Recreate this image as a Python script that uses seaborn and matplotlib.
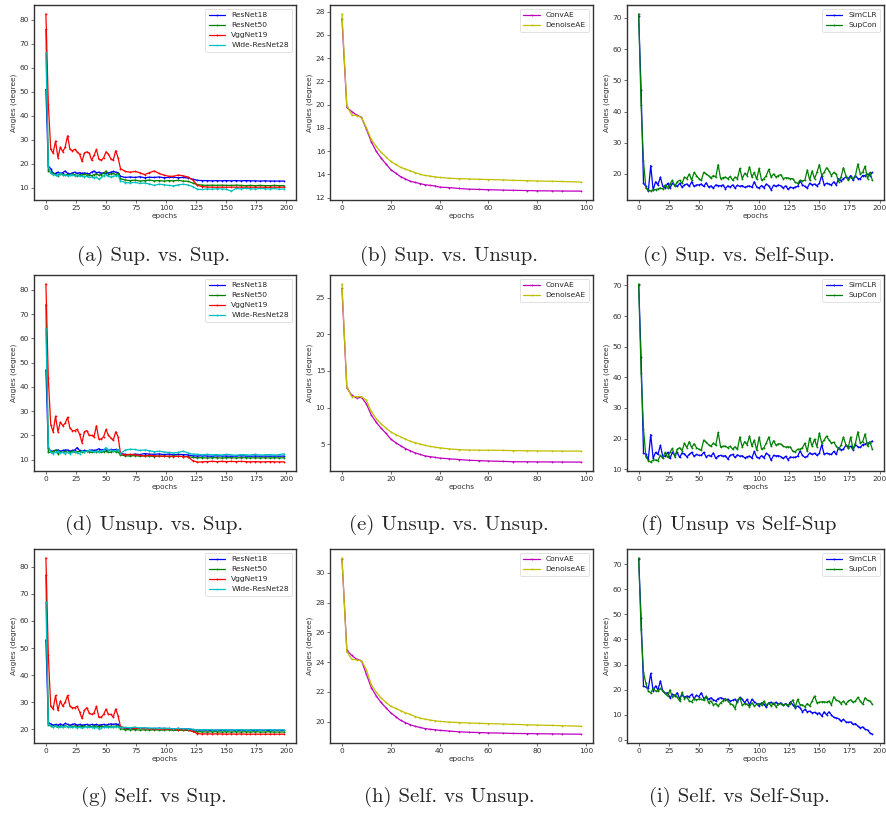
import matplotlib
matplotlib.use("Agg")
import matplotlib.pyplot as plt
import seaborn as sns
import numpy as np

sns.set_style("ticks")
plt.rcParams['font.family'] = ['DejaVu Sans']

# ---------------- data ----------------
epochs_sup = list(range(0, 64, 2)) + list(range(66, 199, 4))
sup_names = ["ResNet18", "ResNet50", "VggNet19", "Wide-ResNet28"]
sup_colors = ["b", "g", "r", "c"]

# (a) Sup. vs. Sup.
a_resnet18 = [51, 19, 18, 16, 16, 16.5, 16, 16.3, 17, 16, 15.8, 16.2, 16.5, 16, 16.3, 16, 16.2, 16, 15.8, 16.5, 17, 16.3, 16.5, 16, 16.3, 16, 16.2, 16.5, 16.8, 16.5, 16.3, 14.8,
              14.3, 14.5, 14.3, 14.6, 14.2, 14.4, 14.3, 14.5, 14.2, 14.3, 14.4, 14.2, 14.3, 14.1, 13.6, 13.1, 13.0, 13.0, 12.9, 13.0, 12.9, 13.0, 12.9, 13.0, 12.9, 13.0, 12.9, 12.9, 12.8, 12.9, 12.8, 12.8, 12.8, 12.8]
a_resnet50 = [76, 17, 16.5, 16, 15.5, 15, 15.8, 15.5, 15.3, 15.5, 15.2, 15.8, 15.5, 15, 15.5, 15.3, 15.8, 15.2, 15.5, 15, 15.5, 15.8, 15.2, 15.5, 16, 17, 15.5, 15.8, 16, 15.5, 16, 13.8,
              13.2, 13.0, 13.2, 12.8, 13.0, 13.2, 12.9, 13.0, 12.8, 13.0, 12.9, 13.1, 12.8, 12.7, 12.0, 11.3, 11.1, 11.0, 11.1, 11.0, 11.1, 11.0, 11.0, 11.1, 11.0, 10.9, 11.0, 10.9, 11.0, 10.9, 10.9, 11.0, 10.9, 10.9]
a_vggnet19 = [82.5, 45, 26, 24.5, 29.5, 22.5, 27, 25, 27, 31.7, 26, 25.5, 26, 25, 24, 21, 24.5, 25, 24.5, 21.5, 23.5, 26, 22, 21.5, 22.5, 25, 24, 22, 21.5, 25.5, 22.5, 18,
              16.8, 16.5, 16.8, 16.3, 15.5, 16.3, 17, 16, 15.3, 14.8, 14.8, 15.3, 15, 14.5, 13.3, 11, 10.5, 10.3, 10.3, 10.2, 10.3, 10.2, 10.3, 10.2, 10.3, 10.2, 10.3, 10.2, 10.3, 10.2, 10.2, 10.3, 10.2, 10.3]
a_wide28 = [66, 19, 16, 15.5, 15.3, 15.5, 16, 15.2, 15.5, 15, 15.3, 15.5, 15, 15.2, 14.8, 15, 14.5, 14.8, 14.3, 14.5, 14.2, 14.5, 13.5, 14.3, 15, 15.5, 14.8, 14.5, 14.8, 15, 15.2, 12.8,
            12.2, 12.0, 12.3, 11.8, 12.0, 11.6, 11.0, 11.5, 11.3, 11.0, 10.8, 11.2, 11.5, 11.2, 10.5, 9.4, 9.3, 9.5, 9.4, 9.6, 9.5, 9.4, 8.6, 9.7, 9.5, 9.8, 9.6, 9.5, 9.7, 9.6, 9.5, 9.7, 9.4, 9.5]

# (d) Unsup. vs. Sup.
d_resnet18 = [47, 15, 13.5, 13.5, 13.8, 14, 13.5, 13.8, 14, 14, 13.5, 13.8, 14, 15, 13.8, 13.5, 13.8, 13.7, 13.8, 14, 13.8, 14, 14.5, 14, 14.2, 14, 13.8, 14.2, 14, 14.2, 14, 12.5,
              12.2, 12.0, 12.3, 12.1, 12.5, 12.3, 12.2, 12.4, 12.1, 12.3, 12.0, 12.2, 12.1, 12.0, 11.6, 11.5, 11.6, 11.5, 11.4, 11.6, 11.5, 11.5, 11.4, 11.5, 11.6, 11.5, 11.4, 11.5, 11.4, 11.5, 11.4, 11.5, 11.4, 11.5]
d_resnet50 = [74, 13, 13, 13.5, 14, 12.5, 13.2, 13, 13.5, 13, 13.2, 13.5, 13, 13.2, 13.5, 13, 13.3, 13.5, 13.2, 13, 13.5, 13.2, 13.5, 13, 13.3, 13.5, 13, 13.2, 13.5, 13.2, 13.3, 12.0,
              11.6, 11.5, 11.7, 11.4, 11.6, 11.5, 11.3, 11.5, 11.4, 11.3, 11.5, 11.4, 11.3, 11.3, 10.9, 10.8, 10.8, 10.7, 10.8, 10.8, 10.7, 10.8, 10.8, 10.7, 10.8, 10.8, 10.7, 10.8, 10.7, 10.8, 10.7, 10.8, 10.7, 10.8]
d_vggnet19 = [82.5, 43.5, 24.5, 21.5, 28, 21.5, 25.5, 24, 25, 27.5, 23, 22, 22, 22.5, 20.5, 17, 21.5, 22, 20, 20, 19.5, 24, 18.5, 18.5, 19.5, 22.5, 20, 19, 18, 21.5, 19.5, 12.5,
              12.0, 12.2, 12.0, 11.8, 11.5, 11.8, 11.6, 11.5, 11.4, 11.5, 11.3, 11.4, 11.3, 11.2, 9.6, 9.0, 9.1, 9.2, 9.3, 9.2, 9.3, 9.2, 9.3, 9.2, 9.3, 9.2, 9.1, 9.2, 9.1, 9.1, 9.2, 9.1, 9.1, 9.1]
d_wide28 = [64, 15.5, 13, 12.5, 13, 13.5, 12.8, 13, 12.5, 13, 12.5, 13, 13.3, 12.8, 12.5, 13.5, 13.2, 13.5, 13.8, 13.5, 13.2, 13.5, 13, 13.5, 14, 15, 13.8, 14, 13.5, 13.8, 14, 12.5,
            14.0, 14.3, 14.2, 13.8, 14.0, 13.7, 13.3, 13.5, 13.2, 13.0, 12.8, 13.0, 13.5, 12.8, 12.3, 12.2, 12.0, 12.2, 12.0, 12.1, 11.9, 12.2, 12.0, 11.8, 12.1, 12.0, 11.9, 12.2, 11.9, 12.0, 12.1, 11.9, 12.1, 12.4]

# (g) Self. vs Sup.
g_resnet18 = [53, 22.5, 22, 21.5, 21.8, 21.5, 22, 21.5, 22.2, 21.8, 21.5, 21.8, 22, 21.5, 21.8, 21.5, 21.7, 21.8, 21.5, 21.8, 21.6, 21.8, 21.5, 21.7, 21.8, 21.5, 21.8, 22, 21.8, 22, 21.8, 20.8,
              20.4, 20.3, 20.5, 20.3, 20.4, 20.3, 20.2, 20.4, 20.3, 20.3, 20.2, 20.3, 20.2, 20.2, 19.9, 19.7, 19.7, 19.7, 19.6, 19.7, 19.6, 19.7, 19.7, 19.6, 19.7, 19.6, 19.7, 19.6, 19.7, 19.6, 19.6, 19.7, 19.6, 19.6]
g_resnet50 = [77, 21.5, 21.3, 21, 21.2, 20.8, 21.2, 21, 21.3, 21, 21.2, 21, 21.3, 21, 21.2, 21, 21.3, 21, 21.2, 21, 21.3, 21.1, 21, 21.2, 21, 21.3, 21, 21.2, 21, 21.2, 21.3, 20.2,
              19.9, 19.8, 19.9, 19.7, 19.8, 19.7, 19.8, 19.7, 19.7, 19.8, 19.6, 19.7, 19.6, 19.6, 19.3, 19.1, 19.1, 19.0, 19.1, 19.1, 19.0, 19.1, 19.0, 19.1, 19.0, 19.1, 19.0, 19.1, 19.0, 19.0, 19.1, 19.0, 19.0, 19.0]
g_vggnet19 = [83.3, 47.5, 28.5, 27.5, 32.5, 27, 30.5, 28.5, 30, 32.5, 28.5, 28, 28, 28.5, 26.5, 24, 27, 28, 26, 25.5, 26, 28.5, 24.5, 24.5, 25.5, 27.5, 25.5, 25.5, 24.5, 27.5, 25, 21,
              20.6, 20.5, 20.4, 20.3, 20.3, 20.2, 20.2, 20.1, 20.1, 20.0, 20.0, 19.9, 19.9, 19.9, 19.2, 18.4, 18.3, 18.3, 18.3, 18.3, 18.3, 18.2, 18.3, 18.2, 18.3, 18.2, 18.2, 18.2, 18.2, 18.2, 18.2, 18.2, 18.2, 18.2]
g_wide28 = [67, 22, 21.2, 21, 21.3, 21, 20.8, 21, 21.2, 20.8, 21, 20.7, 21, 20.6, 20.8, 20.5, 20.8, 21, 20.7, 20.8, 20.6, 20.8, 20.2, 20.6, 20.8, 21, 20.7, 20.8, 21, 20.8, 21, 20.7,
            20.7, 20.6, 20.8, 20.5, 20.6, 20.4, 20.5, 20.3, 20.4, 20.3, 20.2, 20.3, 20.2, 20.2, 20.0, 19.8, 19.8, 19.9, 19.8, 19.7, 19.9, 19.8, 19.7, 19.8, 19.9, 19.7, 19.8, 19.9, 19.7, 19.8, 19.9, 19.7, 19.8, 19.8]

epochs_unsup = list(range(0, 42, 2)) + [44, 48, 52, 56, 60, 66, 70, 76, 80, 86, 90, 98]
unsup_names = ["ConvAE", "DenoiseAE"]
unsup_colors = ["m", "y"]

b_convae = [27.4, 19.75, 19.4, 19.1, 18.9, 17.9, 16.8, 16.0, 15.4, 14.9, 14.4, 14.1, 13.8, 13.6, 13.4, 13.3, 13.2, 13.1, 13.05, 13.0, 12.9,
            12.85, 12.78, 12.72, 12.7, 12.67, 12.64, 12.62, 12.6, 12.58, 12.57, 12.56, 12.55]
b_denoiseae = [27.8, 19.9, 19.1, 19.05, 18.9, 18.0, 17.0, 16.4, 15.9, 15.5, 15.1, 14.85, 14.6, 14.45, 14.3, 14.15, 14.0, 13.9, 13.85, 13.78, 13.73,
               13.66, 13.62, 13.6, 13.57, 13.55, 13.52, 13.48, 13.45, 13.42, 13.4, 13.38, 13.33]
e_convae = [26.3, 12.7, 11.7, 11.3, 11.4, 10.5, 9.0, 8.0, 7.2, 6.5, 5.7, 5.2, 4.8, 4.4, 4.1, 3.8, 3.6, 3.4, 3.3, 3.2, 3.1,
            3.0, 2.9, 2.8, 2.75, 2.7, 2.65, 2.6, 2.59, 2.58, 2.57, 2.56, 2.55]
e_denoiseae = [26.9, 12.8, 11.5, 11.5, 11.5, 11.0, 9.5, 8.5, 7.8, 7.2, 6.7, 6.3, 6.0, 5.7, 5.4, 5.2, 5.0, 4.85, 4.7, 4.6, 4.5,
               4.35, 4.25, 4.2, 4.18, 4.17, 4.15, 4.12, 4.1, 4.08, 4.07, 4.06, 4.05]
h_convae = [30.95, 24.8, 24.45, 24.2, 24.1, 23.2, 22.3, 21.75, 21.3, 20.95, 20.6, 20.35, 20.1, 19.95, 19.8, 19.7, 19.62, 19.55, 19.5, 19.47, 19.43,
            19.38, 19.33, 19.3, 19.28, 19.26, 19.24, 19.22, 19.21, 19.2, 19.19, 19.18, 19.17]
h_denoiseae = [31.0, 24.7, 24.2, 24.15, 24.1, 23.5, 22.5, 22.0, 21.6, 21.3, 21.05, 20.9, 20.75, 20.6, 20.5, 20.35, 20.25, 20.18, 20.12, 20.07, 20.03,
               19.98, 19.95, 19.92, 19.9, 19.88, 19.85, 19.83, 19.8, 19.78, 19.76, 19.74, 19.7]

epochs_self = list(range(0, 196, 2))
self_names = ["SimCLR", "SupCon"]
self_colors = ["b", "g"]

c_simclr = [70.5, 47, 17, 16, 14.5, 22.7, 14.8, 17.5, 16.5, 19, 16, 15.5, 17, 15.5, 17, 16.5, 16, 17, 15.8, 16.5,
            16.8, 16, 17.5, 16, 16.5, 16.5, 16.8, 16, 17.2, 15.8, 16.2, 15.5, 16.5, 16.3, 16.2, 16.5, 15.3, 16.2, 15.8, 16.5,
            15.5, 16.4, 16, 16.3, 15.7, 16, 16.2, 15.7, 17.5, 15.8, 15.5, 16.3, 15.6, 16.8, 16.2, 14.9, 16.4, 16, 16.5, 16.2,
            15.5, 16.2, 15.1, 15.8, 15.5, 15.8, 16, 17.8, 16.5, 16, 15.5, 17, 16.5, 16.8, 16.2, 17, 19.5, 16.5, 17, 16.8,
            16.5, 17.5, 16.5, 18.5, 17.8, 18.5, 19, 18.5, 19.5, 18, 19.5, 18.5, 18.5, 19.5, 19.5, 20, 19.5, 20.5]
c_supcon = [71.3, 42, 24, 15.5, 15, 14.5, 15, 15, 15.2, 15.5, 15.2, 16.5, 15.5, 16.8, 18, 16, 17.5, 18, 17, 19,
            18.5, 20, 18, 20.5, 19.5, 18.5, 18, 20.5, 20, 19.5, 18.7, 19.5, 19, 23, 18.5, 18.8, 19, 18.5, 19.2, 18,
            19, 18.5, 21.8, 18.5, 20.2, 19.5, 22.3, 19, 20.5, 18.3, 21.8, 18, 18.5, 19.5, 21.5, 19, 20, 19, 19.5, 19.8,
            18.5, 18.8, 18.7, 18.5, 18.5, 17.3, 17, 18, 17.8, 18, 21.3, 18, 21, 18.5, 20.5, 23, 19.5, 20.5, 22, 21,
            19.5, 20.5, 20, 17.5, 19, 22, 19.5, 18, 19, 18.5, 19.5, 23.2, 20, 20.5, 22.5, 18.5, 20.5, 18]
f_simclr = [70.3, 46.5, 15.2, 14.8, 13.2, 21.3, 13.5, 15.5, 14.8, 17.8, 14.2, 14.2, 15.5, 13.5, 15.5, 14.5, 15.5, 13.8, 15.3, 15,
            14, 14.8, 15.5, 14.2, 14.8, 14.5, 14.5, 15.5, 14, 14.5, 14.2, 15.3, 13.5, 14.3, 14.5, 14.2, 14.4, 13.3, 14.5, 14.8,
            13.8, 14.7, 14.2, 14.4, 13.7, 14, 14.3, 13.6, 15.8, 13.9, 13.6, 14.4, 13.7, 15.2, 14.6, 12.9, 14.5, 14.3, 14.4, 14.1,
            13.5, 14.2, 13.1, 14, 13.8, 13.9, 14.2, 16, 14.5, 13.8, 14.2, 15.3, 14.8, 15.2, 14.5, 15.2, 18, 14.8, 15.2, 15,
            14.8, 15.8, 14.8, 17, 16.3, 16.5, 17.8, 17, 17.5, 16.3, 18, 17.3, 17.1, 18, 18.2, 18.5, 18.5, 19.2]
f_supcon = [70.5, 41.5, 23, 14, 12.8, 12.3, 13, 13, 12.8, 14.5, 13.5, 15.5, 13.8, 15.5, 16.8, 14, 16.5, 17, 16, 18.5,
            17, 19, 17, 18.3, 17, 16.5, 16.2, 19.5, 18.8, 18, 17.5, 18.5, 17.8, 22, 17.2, 17.5, 17.5, 17, 17.5, 16.5,
            17.3, 16.5, 20.5, 17.2, 19, 18, 20.8, 17.5, 19.5, 16.2, 20.5, 16.5, 17, 18.5, 20.5, 17.5, 19.3, 17.8, 18.3, 18.2,
            17.5, 17.2, 17.3, 17.2, 15.8, 15.7, 16.5, 16.5, 17, 18.5, 15.8, 20.2, 17.5, 19.8, 17.3, 21.8, 18.5, 19.5, 20.8, 19.5,
            18.5, 18.8, 17.5, 16.5, 17.8, 20.5, 18, 17, 20.5, 16.5, 18.5, 22.2, 18.5, 19, 21.5, 17.5, 19, 16.5]
i_simclr = [72, 48.5, 21.5, 21, 20.5, 26.5, 19.5, 21.5, 20, 23.5, 19.5, 18.5, 18.8, 16.8, 18.2, 17.5, 18.8, 16.5, 18, 17,
            17.5, 17.2, 18.2, 16.5, 17.8, 17.2, 18.8, 16.5, 17, 16.2, 16.8, 16, 15.5, 16.5, 16.8, 16.5, 16, 16.2, 15.5, 15.8,
            16.2, 15, 17, 16.2, 14.8, 16.2, 14, 16.2, 15.2, 14.5, 13.5, 14.8, 14.2, 13, 14.8, 15, 14.2, 15, 14.3, 14.8,
            13.8, 14.5, 13.5, 15.2, 14, 12.8, 13.5, 12.8, 11.2, 12.2, 11.2, 11.5, 10.8, 11, 10.5, 10.8, 9.5, 11.2, 10, 11.2,
            10, 9, 8.8, 8.5, 7.5, 8.2, 7.2, 7, 7.2, 6.2, 6.5, 5.5, 4.8, 5.2, 4.2, 4.0, 2.8, 2.3]
i_supcon = [72.5, 44, 27, 22.5, 19.5, 18.7, 20.5, 19.5, 19.5, 20.5, 19.5, 18.5, 17.5, 20, 17, 18, 17, 15.5, 19, 16.5,
            17, 15.5, 15.2, 16.5, 16, 16.3, 16.2, 15.8, 17.5, 14.8, 15.5, 14, 14.5, 13.5, 14.8, 15.5, 16.5, 15.5, 14.5, 14,
            12.5, 15.8, 16.8, 13.8, 14.5, 14.2, 13.2, 14.8, 13.5, 14.2, 14.5, 13.8, 15.5, 13.8, 14.8, 13.5, 14.8, 13.2, 14.2, 14.5,
            13.8, 14.2, 13.8, 14.5, 16, 13, 16.2, 14, 14, 13.2, 14.5, 13.5, 15.5, 17.5, 14.8, 15, 15.2, 15.2, 15, 15.5,
            14, 17.2, 15.8, 15.5, 14.5, 15.5, 14.2, 15.5, 16, 15, 15.5, 17, 15.5, 14.2, 16.8, 15.8, 15.5, 14.2]

captions = ["(a) Sup. vs. Sup.", "(b) Sup. vs. Unsup.", "(c) Sup. vs. Self-Sup.",
            "(d) Unsup. vs. Sup.", "(e) Unsup. vs. Unsup.", "(f) Unsup vs Self-Sup",
            "(g) Self. vs Sup.", "(h) Self. vs Unsup.", "(i) Self. vs Self-Sup."]

panels = [
    (epochs_sup, [a_resnet18, a_resnet50, a_vggnet19, a_wide28], sup_names, sup_colors),
    (epochs_unsup, [b_convae, b_denoiseae], unsup_names, unsup_colors),
    (epochs_self, [c_simclr, c_supcon], self_names, self_colors),
    (epochs_sup, [d_resnet18, d_resnet50, d_vggnet19, d_wide28], sup_names, sup_colors),
    (epochs_unsup, [e_convae, e_denoiseae], unsup_names, unsup_colors),
    (epochs_self, [f_simclr, f_supcon], self_names, self_colors),
    (epochs_sup, [g_resnet18, g_resnet50, g_vggnet19, g_wide28], sup_names, sup_colors),
    (epochs_unsup, [h_convae, h_denoiseae], unsup_names, unsup_colors),
    (epochs_self, [i_simclr, i_supcon], self_names, self_colors),
]

# ---------------- layout ----------------
W, H = 886, 816
fig = plt.figure(figsize=(W / 100, H / 100), dpi=100)
col_lr = [(34, 296), (330, 593), (627, 884)]
row_tb = [(5, 200), (275, 471), (549, 743)]
cap_x = [154, 449, 739]
cap_y = [256, 525, 797]

for k, (xs, series, names, colors) in enumerate(panels):
    r, c = divmod(k, 3)
    l, rr = col_lr[c]
    t, b = row_tb[r]
    ax = fig.add_axes([l / W, 1 - b / H, (rr - l) / W, (b - t) / H])
    for ys, name, col in zip(series, names, colors):
        sns.lineplot(x=xs, y=ys, ax=ax, color=col, marker='.', markersize=2.6,
                     markeredgewidth=0, linewidth=0.9, label=name)
    ax.set_xlabel("epochs", fontsize=5.3, labelpad=1.5, color='#333333')
    ax.set_ylabel("Angles (degree)", fontsize=5.3, labelpad=2, color='#333333')
    ax.tick_params(labelsize=5.3, length=2, width=0.5, pad=1.5, colors='#333333')
    for sp in ax.spines.values():
        sp.set_linewidth(1.0)
        sp.set_color('#333333')
        sp.set_visible(True)
    leg = ax.legend(loc='upper right', fontsize=5.4, frameon=True, handlelength=2.2,
                    borderpad=0.45, labelspacing=0.5, handletextpad=0.8)
    leg.get_frame().set_linewidth(0.5)
    leg.get_frame().set_edgecolor('#cccccc')
    fig.text(cap_x[c] / W, 1 - cap_y[r] / H, captions[k], ha='center', va='center',
             family='cmr10', fontsize=15)

fig.savefig("out.png", dpi=100)
